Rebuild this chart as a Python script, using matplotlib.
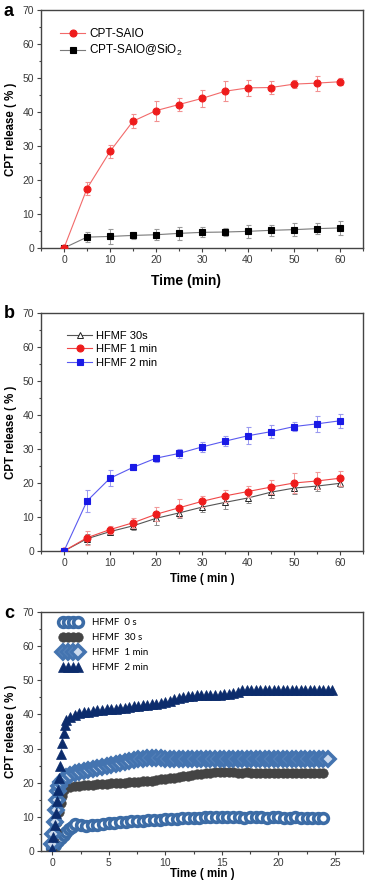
import numpy as np
import matplotlib
matplotlib.use("Agg")
import matplotlib.pyplot as plt
from matplotlib.ticker import MultipleLocator
from matplotlib.lines import Line2D

plt.rcParams['font.family'] = ['Liberation Sans', 'DejaVu Sans']
plt.rcParams['mathtext.fontset'] = 'custom'
plt.rcParams['mathtext.rm'] = 'Liberation Sans'
plt.rcParams['mathtext.it'] = 'Liberation Sans'

# ---------------- Panel a data ----------------
t_a = [0, 5, 10, 15, 20, 25, 30, 35, 40, 45, 50, 55, 60]
saio = [0, 17.5, 28.4, 37.3, 40.4, 42.2, 44.0, 46.1, 47.1, 47.2, 48.2, 48.5, 48.9]
saio_err = [0, 2.0, 2.0, 2.0, 2.9, 1.9, 2.5, 3.0, 2.3, 1.8, 1.2, 2.2, 1.1]
sio2 = [0, 3.2, 3.4, 3.7, 3.9, 4.3, 4.6, 4.7, 4.9, 5.2, 5.4, 5.7, 5.9]
sio2_err = [0, 1.5, 2.3, 1.0, 1.6, 2.0, 1.5, 1.2, 2.0, 1.7, 2.0, 1.7, 2.1]

# ---------------- Panel b data ----------------
t_b = [0, 5, 10, 15, 20, 25, 30, 35, 40, 45, 50, 55, 60]
b30s = [0, 3.6, 5.7, 7.4, 9.6, 11.2, 12.9, 14.3, 15.6, 17.3, 18.5, 19.1, 19.9]
b30s_err = [0, 1.5, 1.0, 1.2, 2.0, 1.5, 1.4, 1.8, 1.5, 1.6, 1.8, 1.5, 1.2]
b1m = [0, 3.9, 6.3, 8.3, 10.8, 12.7, 14.6, 16.2, 17.5, 18.8, 20.0, 20.6, 21.4]
b1m_err = [0, 2.0, 1.2, 1.5, 2.0, 2.7, 1.7, 1.8, 1.5, 2.0, 3.0, 2.5, 2.2]
b2m = [0, 14.7, 21.4, 24.6, 27.3, 28.7, 30.6, 32.3, 33.9, 35.1, 36.6, 37.4, 38.3]
b2m_err = [0, 3.1, 2.3, 0.9, 1.0, 1.3, 1.5, 1.5, 2.5, 2.0, 1.4, 2.4, 2.0]

# ---------------- Panel c data ----------------
# HFMF 0 s (open circles)
c0_t_early = [0, 0.25, 0.5, 0.75, 1.0, 1.25, 1.5, 1.75, 2.0]
c0_v_early = [0.8, 1.8, 2.9, 3.9, 4.8, 5.6, 6.4, 7.1, 7.8]
c0_t_start, c0_t_step = 2.5, 0.5
c0_v = [7.6, 7.4, 7.5, 7.7, 7.9, 8.1, 8.3, 8.5, 8.6, 8.8, 8.9, 8.9, 9.0, 9.1,
        9.2, 9.3, 9.4, 9.5, 9.6, 9.7, 9.8, 9.8, 9.9,
        9.9, 9.9, 10.0, 9.9, 9.9, 9.9, 9.8, 9.9, 9.9, 9.9, 9.8, 9.9, 9.9, 9.8,
        9.8, 9.9, 9.8, 9.8, 9.8, 9.8, 9.8]

# HFMF 30 s (dark grey filled circles)
c30_t_early = [0, 0.15, 0.3, 0.45, 0.6, 0.75, 0.9, 1.05, 1.2]
c30_v_early = [0, 2.5, 5.5, 8.5, 11.5, 14.0, 16.2, 17.8, 18.6]
c30_t_start, c30_t_step = 1.6, 0.4
c30_v = [18.8, 19.0, 19.1, 19.2, 19.3, 19.4, 19.5, 19.6, 19.7, 19.8, 19.9, 19.9,
         20.0, 20.1, 20.2, 20.3, 20.4, 20.5, 20.6, 20.8, 21.0, 21.2, 21.3, 21.5,
         21.7, 21.9, 22.1, 22.3, 22.5, 22.6, 22.8, 22.9, 23.0, 23.0,
         23.0, 23.0, 23.0, 22.9, 22.9, 23.0, 22.9, 22.9, 22.9, 22.9, 22.9, 22.9,
         22.9, 22.9, 22.8, 22.9, 22.9, 22.8, 22.8, 22.9, 22.8, 22.8, 22.8]

# HFMF 1 min (open diamonds)
c1_t_early = [0, 0.1, 0.2, 0.3, 0.4, 0.5, 0.6, 0.8, 1.0, 1.2]
c1_v_early = [2.0, 5.0, 8.5, 12.0, 15.0, 17.5, 19.0, 20.3, 21.0, 21.6]
c1_t_start, c1_t_step = 1.6, 0.4
c1_v = [22.3, 22.8, 23.2, 23.5, 23.8, 24.0, 24.3, 24.6, 24.9, 25.2, 25.4, 25.7,
        26.0, 26.3, 26.6, 26.8, 27.0, 27.1, 27.2, 27.2, 27.1,
        27.0, 27.0, 27.0, 27.0, 27.0, 27.0, 27.0, 27.0, 27.0, 27.0, 27.0, 27.0,
        27.0, 27.0, 27.0, 27.0, 27.0, 27.0, 27.0, 27.0, 27.0, 27.0, 27.0, 27.0,
        27.0, 27.0, 27.0, 27.0, 27.0, 27.0, 27.0, 27.0, 27.0, 27.0, 27.0, 26.9,
        26.9]

# HFMF 2 min (filled triangles)
c2_t_early = [0, 0.1, 0.2, 0.3, 0.4, 0.5, 0.6, 0.7, 0.8, 0.9, 1.0, 1.1, 1.2]
c2_v_early = [0.5, 4.0, 7.5, 11.0, 14.5, 18.0, 21.5, 25.0, 28.5, 31.5, 34.5, 37.0, 38.5]
c2_t_start, c2_t_step = 1.6, 0.4
c2_v = [39.3, 39.9, 40.3, 40.6, 40.8, 41.0, 41.2, 41.3, 41.5, 41.6,
        41.7, 41.9, 42.0, 42.2, 42.4, 42.5, 42.7, 42.8, 43.0, 43.1,
        43.3, 43.5, 43.9, 44.4, 44.8, 45.1, 45.4, 45.5, 45.6, 45.6,
        45.7, 45.7, 45.7, 45.8, 45.9, 46.1, 46.3, 46.6, 47.1,
        47.2, 47.2, 47.2, 47.2, 47.2, 47.2, 47.2, 47.2, 47.2, 47.2,
        47.2, 47.2, 47.2, 47.2, 47.2, 47.2, 47.2, 47.2, 47.2, 47.2]


def series(t_early, v_early, start, step, vals):
    t = list(t_early) + list(start + step * np.arange(len(vals)))
    v = list(v_early) + list(vals)
    return np.array(t), np.array(v)


W, H = 368, 881
fig = plt.figure(figsize=(W / 100, H / 100), dpi=100)

spine_col = '#444444'
tick_col = '#3a3a3a'


def style_axes(ax, xmaj, xmin):
    for s in ax.spines.values():
        s.set_color(spine_col)
        s.set_linewidth(1.0)
    ax.set_ylim(0, 70)
    ax.yaxis.set_major_locator(MultipleLocator(10))
    ax.yaxis.set_minor_locator(MultipleLocator(5))
    ax.xaxis.set_major_locator(MultipleLocator(xmaj))
    ax.xaxis.set_minor_locator(MultipleLocator(xmin))
    ax.tick_params(which='both', direction='out', top=False, right=False,
                   color=spine_col, width=0.8, labelcolor=tick_col, labelsize=7.5, pad=2)
    ax.tick_params(which='major', length=3)
    ax.tick_params(which='minor', length=1.8)
    ax.set_ylabel('CPT release ( % )', fontsize=8.3, fontweight='bold', labelpad=4)


def rect(top, bottom, left=41, right=363):
    return [left / W, 1 - bottom / H, (right - left) / W, (bottom - top) / H]


def eb(ax, x, y, e, line_c, face_c, edge_c, err_c, marker, ms, label, z, mew=0.8):
    ax.errorbar(x, y, yerr=e, color=line_c, lw=0.8, marker=marker, ms=ms,
                mfc=face_c, mec=edge_c, mew=mew, ecolor=err_c, elinewidth=0.7,
                capsize=1.8, capthick=0.7, zorder=z)
    return Line2D([], [], color=line_c, lw=0.8, marker=marker, ms=ms,
                  mfc=face_c, mec=edge_c, mew=mew, label=label)


def place_xlabel(ax, text, size, x_px, y_px, top_px, bottom_px):
    ax.set_xlabel(text, fontsize=size, fontweight='bold')
    ax.xaxis.set_label_coords((x_px - 41) / 322, (bottom_px - y_px) / (bottom_px - top_px))
    ax.xaxis.label.set_va('center')


# ---------------- Panel a ----------------
ax1 = fig.add_axes(rect(10, 248))
style_axes(ax1, 10, 5)
ax1.set_xlim(-5, 65)
h_sio2 = eb(ax1, t_a, sio2, sio2_err, '#7a7a7a', 'black', 'black', '#9a9a9a', 's', 4.2,
            'CPT-SAIO@SiO$_2$', 2)
h_saio = eb(ax1, t_a, saio, saio_err, '#f26a6a', '#ee1c1c', '#ee1c1c', '#f29090', 'o', 5,
            'CPT-SAIO', 3)
ax1.legend(handles=[h_saio, h_sio2], loc='upper left', bbox_to_anchor=(0.06, 0.925),
           frameon=False, fontsize=8.5, borderpad=0, borderaxespad=0, handlelength=2.1,
           handletextpad=0.35, labelspacing=0.3, numpoints=1)
place_xlabel(ax1, 'Time (min)', 10, 186, 281, 10, 248)

# ---------------- Panel b ----------------
ax2 = fig.add_axes(rect(313, 551))
style_axes(ax2, 10, 5)
ax2.set_xlim(-5, 65)
h30 = eb(ax2, t_b, b30s, b30s_err, '#555555', 'white', '#222222', '#8a8a8a', '^', 4.8,
         'HFMF 30s', 2, mew=0.7)
h1 = eb(ax2, t_b, b1m, b1m_err, '#f04848', '#ee1c1c', '#ee1c1c', '#f29a9a', 'o', 5,
        'HFMF 1 min', 3)
h2 = eb(ax2, t_b, b2m, b2m_err, '#5a5af0', '#1a1ae6', '#1a1ae6', '#9a9af0', 's', 4.2,
        'HFMF 2 min', 4)
ax2.legend(handles=[h30, h1, h2], loc='upper left', bbox_to_anchor=(0.08, 0.925),
           frameon=False, fontsize=8, borderpad=0, borderaxespad=0, handlelength=2.3,
           handletextpad=0.3, labelspacing=0.3, numpoints=1)
place_xlabel(ax2, 'Time ( min )', 8.3, 202, 579, 313, 551)

# ---------------- Panel c ----------------
ax3 = fig.add_axes(rect(612, 851))
style_axes(ax3, 5, 2.5)
ax3.set_xlim(-1, 27.5)
t0, v0 = series(c0_t_early, c0_v_early, c0_t_start, c0_t_step, c0_v)
t30, v30 = series(c30_t_early, c30_v_early, c30_t_start, c30_t_step, c30_v)
t1, v1 = series(c1_t_early, c1_v_early, c1_t_start, c1_t_step, c1_v)
t2, v2 = series(c2_t_early, c2_v_early, c2_t_start, c2_t_step, c2_v)

ax3.plot(t0, v0, ls='none', marker='o', ms=7.0, mfc='white', mec='#3c6ca6', mew=2.6,
         label='HFMF  0 s', zorder=2)
ax3.plot(t30, v30, ls='none', marker='o', ms=6.8, mfc='#444444', mec='#444444', mew=0.5,
         label='HFMF  30 s', zorder=3)
ax3.plot(t1, v1, ls='none', marker='D', ms=7.2, mfc='#cddbee', mec='#4474b0', mew=2.6,
         label='HFMF  1 min', zorder=4)
ax3.plot(t2, v2, ls='none', marker='^', ms=7.6, mfc='#0c2c6c', mec='#0c2c6c', mew=0.5,
         label='HFMF  2 min', zorder=5)
ax3.legend(loc='upper left', bbox_to_anchor=(0.058, 0.975), frameon=False,
           prop={'family': ['Lato', 'DejaVu Sans'], 'size': 7}, borderpad=0,
           borderaxespad=0, handlelength=2.2, handletextpad=1.1, labelspacing=0.62,
           numpoints=4)
place_xlabel(ax3, 'Time ( min )', 8.3, 202, 874, 612, 851)

# panel letters
fig.text(4 / W, 1 - 11 / H, 'a', fontsize=13, fontweight='bold', va='center', ha='left')
fig.text(4 / W, 1 - 314 / H, 'b', fontsize=13, fontweight='bold', va='center', ha='left')
fig.text(4 / W, 1 - 614 / H, 'c', fontsize=13, fontweight='bold', va='center', ha='left')

fig.savefig('out.png', dpi=100)
